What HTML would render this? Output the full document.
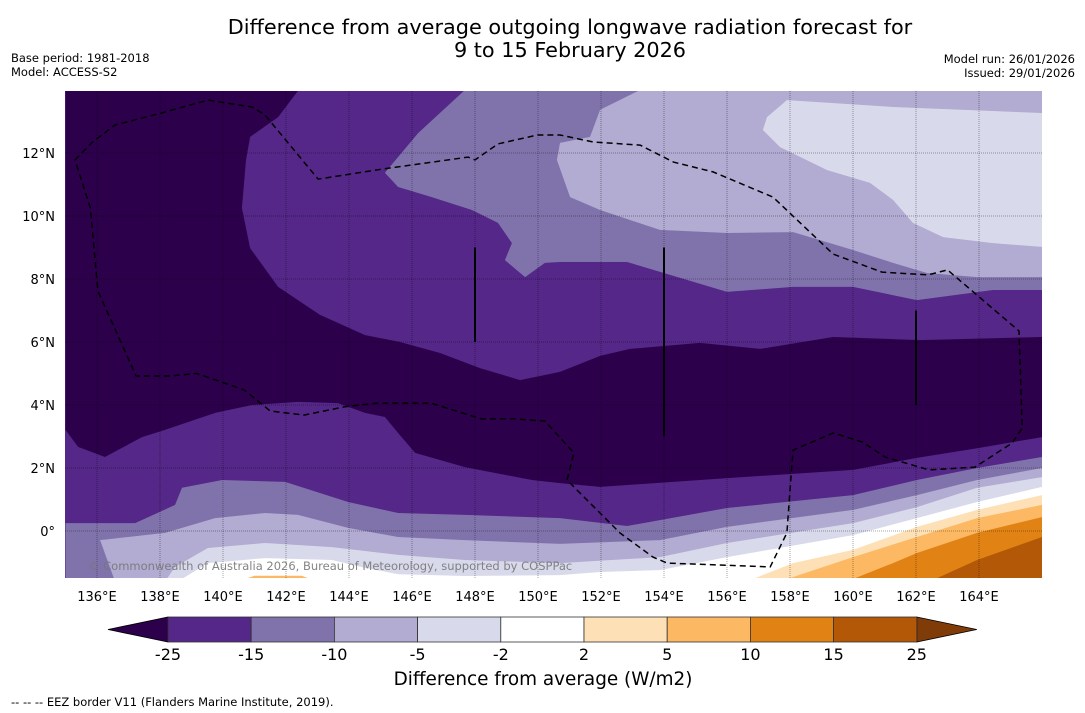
<!DOCTYPE html>
<html><head><meta charset="utf-8"><style>
html,body{margin:0;padding:0;background:#fff;}
svg{display:block;font-family:"DejaVu Sans","Liberation Sans",sans-serif;}
</style></head><body>
<svg id="chart" width="1085" height="713" viewBox="0 0 1085 713" xmlns="http://www.w3.org/2000/svg">
<defs><clipPath id="mapclip"><rect x="65" y="91" width="977" height="487"/></clipPath></defs>
<rect width="1085" height="713" fill="#fff"/>
<text x="570" y="34" font-size="20.8" text-anchor="middle">Difference from average outgoing longwave radiation forecast for</text>
<text x="570" y="57" font-size="20.8" text-anchor="middle">9 to 15 February 2026</text>
<text x="11" y="62" font-size="11.5">Base period: 1981-2018</text>
<text x="11" y="76" font-size="11.5">Model: ACCESS-S2</text>
<text x="1075" y="63" font-size="11.5" text-anchor="end">Model run: 26/01/2026</text>
<text x="1075" y="77" font-size="11.5" text-anchor="end">Issued: 29/01/2026</text>
<g id="map" clip-path="url(#mapclip)"></g>
<g id="axes"></g>
<g id="cbar"></g>
<text x="543" y="685" font-size="18.4" text-anchor="middle">Difference from average (W/m2)</text>
<text x="11" y="706" font-size="11.5">--  --  -- EEZ border V11 (Flanders Marine Institute, 2019).</text>
</svg>
<script>
const lonTicks=[136,138,140,142,144,146,148,150,152,154,156,158,160,162,164];
const latTicks=[0,2,4,6,8,10,12];
const cbLevels=["-25","-15","-10","-5","-2","2","5","10","15","25"];
const cbColors=["#542788","#8073ac","#b2abd2","#d8daeb","#ffffff","#fee0b6","#fdb863","#e08214","#b35806"];
const cbLow="#2d004b", cbHigh="#7f3b08";
// contour regions [lon,lat]
const darkRegion=[[142.4,14],[141.75,13.14],[140.86,12.51],[140.73,11.78],[140.6,10.25],[140.86,8.98],[141.75,7.75],[143.08,6.86],[144.51,6.22],[145.62,6.0],[146.89,5.65],[148.16,5.17],[149.43,4.79],[150.7,5.05],[151.97,5.56],[152.92,5.78],[155.14,5.97],[157.05,5.78],[159.37,6.16],[162.13,6.06],[166,6.16],[166,2.98],[163.94,2.63],[162.03,2.32],[160,1.94],[156,1.68],[151.97,1.4],[150.7,1.52],[149.81,1.62],[147.68,2.03],[146.1,2.48],[145.56,3.11],[145.14,3.62],[144.51,3.75],[143.65,4.06],[142.38,4.1],[140.92,4.0],[139.75,3.75],[138.16,3.21],[137.43,2.98],[136.25,2.35],[135.4,2.67],[135,3.21],[135,14]];
const upperM15=[[147.68,14],[146.19,12.63],[145.14,11.37],[145.56,10.92],[146.63,10.6],[147.9,10.19],[148.73,9.78],[149.17,9.14],[148.95,8.6],[149.59,8.06],[150.22,8.51],[150.7,8.54],[152.83,8.54],[156,7.59],[158.1,7.75],[160,7.75],[162.03,7.33],[164.44,7.65],[166,7.65],[166,14]];
const upperM10=[[153.24,14],[151.97,13.37],[151.65,12.51],[150.7,12.32],[150.6,11.78],[151.02,10.6],[151.97,10.19],[153.87,9.56],[156,9.46],[158.1,9.49],[160,8.92],[161.27,8.51],[162.35,8.19],[163.94,8.06],[166,8.06],[166,14]];
const upperM5=[[157.9,13.68],[157.27,13.14],[157.14,12.73],[157.68,12.19],[159.17,11.46],[160.54,11.05],[161.27,10.51],[161.9,9.78],[162.86,9.33],[164.44,9.14],[166,9.02],[166,13.27],[161.27,13.46]];
const lowM15=[[135,0.25],[137.21,0.25],[138.48,0.83],[138.7,1.37],[139.97,1.62],[141.97,1.56],[143.97,0.92],[145.56,0.57],[147.68,0.51],[150.7,0.41],[152.83,0.16],[156,0.73],[160,1.14],[162.03,1.62],[163.94,2.0],[166,2.35]];
const lowM10=[[136.57,-1.6],[136.1,-0.29],[138.16,-0.06],[139.75,0.41],[141.33,0.57],[142.38,0.51],[143.97,0.1],[145.56,-0.19],[147.68,-0.29],[150.7,-0.41],[153.87,-0.29],[156,0.13],[160,0.67],[162.03,1.14],[163.94,1.62],[166,2.0]];
const lowM5=[[138.16,-1.6],[138.48,-1.14],[139.52,-0.54],[141.33,-0.38],[143.46,-0.51],[145.56,-0.76],[147.68,-0.92],[150.7,-1.02],[153.87,-0.83],[156,-0.38],[160,0.25],[162.03,0.76],[163.94,1.37],[166,1.71]];
const lowM2=[[138.57,-1.6],[139.52,-1.02],[141.33,-0.86],[143.46,-0.92],[144.51,-1.17],[145.56,-1.37],[147.68,-1.43],[150.7,-1.4],[151.97,-1.3],[153.87,-1.24],[156,-0.83],[160,-0.13],[162.03,0.41],[163.94,0.92],[166,1.4]];
const lowP2=[[156.63,-1.6],[158.1,-1.02],[160,-0.6],[162.03,0.13],[163.94,0.67],[166,1.14]];
const lowP5=[[157.68,-1.6],[160,-0.83],[162.03,-0.19],[163.94,0.41],[166,0.83]];
const lowP10=[[159.81,-1.6],[161.27,-1.02],[162.03,-0.7],[163.94,-0.06],[166,0.44]];
const lowP15=[[162.44,-1.6],[163.94,-0.92],[166,-0.19]];
const smallP2=[[140.2,-1.7],[141,-1.42],[142.5,-1.42],[143.2,-1.7]];
const eez=[[135.3,11.78],[135.86,12.35],[136.57,12.89],[137.94,13.24],[139.52,13.68],[140.92,13.46],[141.33,13.21],[143.02,11.17],[145.05,11.49],[147.78,11.87],[148.0,11.78],[148.73,12.29],[149.98,12.57],[150.7,12.57],[151.75,12.35],[153.24,12.25],[154.3,11.71],[155.56,11.4],[157.46,10.6],[159.37,8.79],[160.92,8.22],[162.38,8.13],[163.0,8.29],[165.27,6.35],[165.37,3.27],[165.05,2.79],[163.87,2.03],[162.41,1.94],[161.02,2.35],[160.29,2.83],[159.37,3.11],[158.1,2.57],[158.0,1.30],[157.9,-0.06],[157.37,-1.14],[154.1,-1.02],[153.65,-0.83],[152.6,-0.06],[150.92,1.62],[151.14,2.48],[150.22,3.49],[149.27,3.56],[148.2,3.56],[146.6,4.06],[144.89,4.06],[143.84,3.94],[142.57,3.68],[141.5,3.81],[140.67,4.48],[139.17,5.0],[138.3,4.92],[137.24,4.92],[136.03,7.62],[135.79,10.25],[135.3,11.78]];
const blackLines=[[148,9,6],[154,9,3],[162,7,4]];

const NS="http://www.w3.org/2000/svg";
const X0=97,X1=979,LON0=136,LON1=164,Y0=531,Y1=153,LAT0=0,LAT1=12;
function xs(lon){return X0+(lon-LON0)*(X1-X0)/(LON1-LON0);}
function ys(lat){return Y0+(lat-LAT0)*(Y1-Y0)/(LAT1-LAT0);}
function mk(tag,attrs,parent){const e=document.createElementNS(NS,tag);for(const k in attrs)e.setAttribute(k,attrs[k]);parent.appendChild(e);return e;}
function pts(arr){return arr.map(p=>xs(p[0]).toFixed(1)+","+ys(p[1]).toFixed(1)).join(" ");}
const map=document.getElementById("map");
let r=mk("rect",{x:65,y:91,width:977,height:487,fill:"#542788"},map);


function region(arr,color,name,closeBottom){
  let a=arr.slice();
  if(closeBottom){a.push([166.5,-2]);a.push([arr[0][0],-2]);}
  const p=mk("polygon",{points:pts(a),fill:color},map);
  
  
}
region(darkRegion,"#2d004b","region-below-minus25",false);
region(upperM15,"#8073ac","upper-region-minus15",false);
region(upperM10,"#b2abd2","upper-region-minus10",false);
region(upperM5,"#d8daeb","upper-region-minus5",false);
region(lowM15,"#8073ac","lower-region-minus15",true);
region(lowM10,"#b2abd2","lower-region-minus10",true);
region(lowM5,"#d8daeb","lower-region-minus5",true);
region(lowM2,"#ffffff","lower-region-minus2",true);
region(lowP2,"#fee0b6","lower-region-plus2",true);
region(lowP5,"#fdb863","lower-region-plus5",true);
region(lowP10,"#e08214","lower-region-plus10",true);
region(lowP15,"#b35806","lower-region-plus15",true);
region(smallP2,"#fdb863","small-region-plus5",false);
// gridlines
lonTicks.forEach(l=>{const g=mk("line",{x1:xs(l),x2:xs(l),y1:91,y2:578,stroke:"#000","stroke-opacity":0.35,"stroke-width":1,"stroke-dasharray":"1,1"},map);

});
latTicks.forEach(l=>{const g=mk("line",{x1:65,x2:1042,y1:ys(l),y2:ys(l),stroke:"#000","stroke-opacity":0.35,"stroke-width":1,"stroke-dasharray":"1,1"},map);

});
const ez=mk("polygon",{points:pts(eez),fill:"none",stroke:"#000","stroke-width":1.5,"stroke-dasharray":"6,4"},map);


blackLines.forEach(b=>{const l=mk("line",{x1:xs(b[0]),x2:xs(b[0]),y1:ys(b[1]),y2:ys(b[2]),stroke:"#000","stroke-width":2},map);

});
const cp=mk("text",{x:88,y:570,"font-size":11.5,fill:"#777","fill-opacity":0.9},map);
cp.textContent="© Commonwealth of Australia 2026, Bureau of Meteorology, supported by COSPPac";


// axes labels
const ax=document.getElementById("axes");
lonTicks.forEach(l=>{const t=mk("text",{x:xs(l),y:601,"font-size":13,"text-anchor":"middle"},ax);t.textContent=l+"°E";

});
latTicks.forEach(l=>{const t=mk("text",{x:55,y:ys(l)+5,"font-size":13,"text-anchor":"end"},ax);t.textContent=l===0?"0°":l+"°N";

});
// colorbar
const cb=document.getElementById("cbar");
const CB0=168,CBW=83.2,CT=617,CB=642;
let tl=mk("polygon",{points:`108,${(CT+CB)/2} ${CB0},${CT} ${CB0},${CB}`,fill:cbLow,stroke:"#000","stroke-width":0.8},cb);


const endX=CB0+CBW*cbColors.length;
let tr=mk("polygon",{points:`${endX},${CT} ${endX+60},${(CT+CB)/2} ${endX},${CB}`,fill:cbHigh,stroke:"#000","stroke-width":0.8},cb);


cbColors.forEach((c,i)=>{const b=mk("rect",{x:CB0+i*CBW,y:CT,width:CBW,height:CB-CT,fill:c,stroke:"#333","stroke-width":0.8},cb);

});
cbLevels.forEach((v,i)=>{const t=mk("text",{x:CB0+i*CBW,y:660,"font-size":16,"text-anchor":"middle"},cb);t.textContent=v;

});
</script>
</body></html>
